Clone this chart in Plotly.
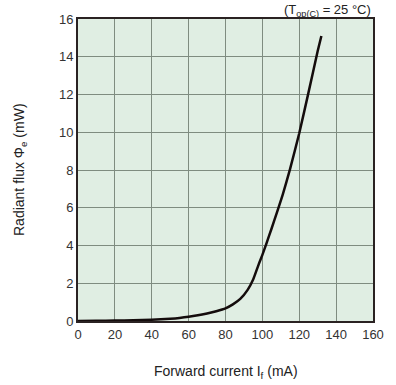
import plotly.graph_objects as go

current_ma = [0, 10, 20, 30, 40, 50, 55, 60, 65, 70, 75, 80, 84, 88, 92, 95, 98, 100,
              102, 105, 108, 111, 115, 120, 125, 130, 132]
flux_mw = [0, 0.01, 0.02, 0.04, 0.07, 0.12, 0.16, 0.22, 0.3, 0.4, 0.52, 0.67, 0.88, 1.17,
           1.65, 2.2, 3.0, 3.5, 4.05, 4.9, 5.78, 6.68, 8.05, 9.95, 12.1, 14.3, 15.1]

x_ticks = [0, 20, 40, 60, 80, 100, 120, 140, 160]
y_ticks = [0, 2, 4, 6, 8, 10, 12, 14, 16]

fig = go.Figure()
fig.add_trace(go.Scatter(x=current_ma, y=flux_mw, mode="lines",
                         line=dict(color="#140c0c", width=2.5, shape="spline", smoothing=0.5),
                         showlegend=False, hoverinfo="skip"))

font = "Liberation Sans, Arial, sans-serif"
fig.update_layout(
    width=396, height=385,
    margin=dict(l=78, r=15, t=18, b=64),
    paper_bgcolor="white",
    plot_bgcolor="#e0eee3",
    font=dict(family=font, size=13, color="#333333"),
)
fig.update_xaxes(range=[0, 160], tickvals=x_ticks, ticktext=[str(v) for v in x_ticks],
                 showgrid=True, gridcolor="#7f8c80", gridwidth=1,
                 showline=True, linecolor="#2a2222", linewidth=2, mirror=True,
                 zeroline=False, ticks="", ticklen=0)
fig.update_yaxes(range=[0, 16], tickvals=y_ticks, ticktext=[str(v) for v in y_ticks],
                 showgrid=True, gridcolor="#7f8c80", gridwidth=1,
                 showline=True, linecolor="#2a2222", linewidth=2, mirror=True,
                 zeroline=False, ticks="", ticklen=0)
fig.add_annotation(text="Forward current I<sub>f</sub> (mA)", xref="paper", yref="paper",
                   x=0.5, y=0, xanchor="center", yanchor="middle", yshift=-51,
                   showarrow=False, font=dict(size=14, color="#222"))
fig.add_annotation(text="Radiant flux Φ<sub>e</sub> (mW)", xref="paper", yref="paper",
                   x=0, y=0.5, xanchor="center", yanchor="middle", xshift=-58, textangle=-90,
                   showarrow=False, font=dict(size=14, color="#222"))
fig.add_annotation(text="(T<sub>op(C)</sub> = 25 °C)", xref="paper", yref="paper",
                   x=1, y=1, xanchor="right", yanchor="bottom", showarrow=False,
                   font=dict(size=13, color="#222"), yshift=-2)

fig.write_html("out.html", config={"displayModeBar": False},
               post_script="document.body.style.margin='0';")
